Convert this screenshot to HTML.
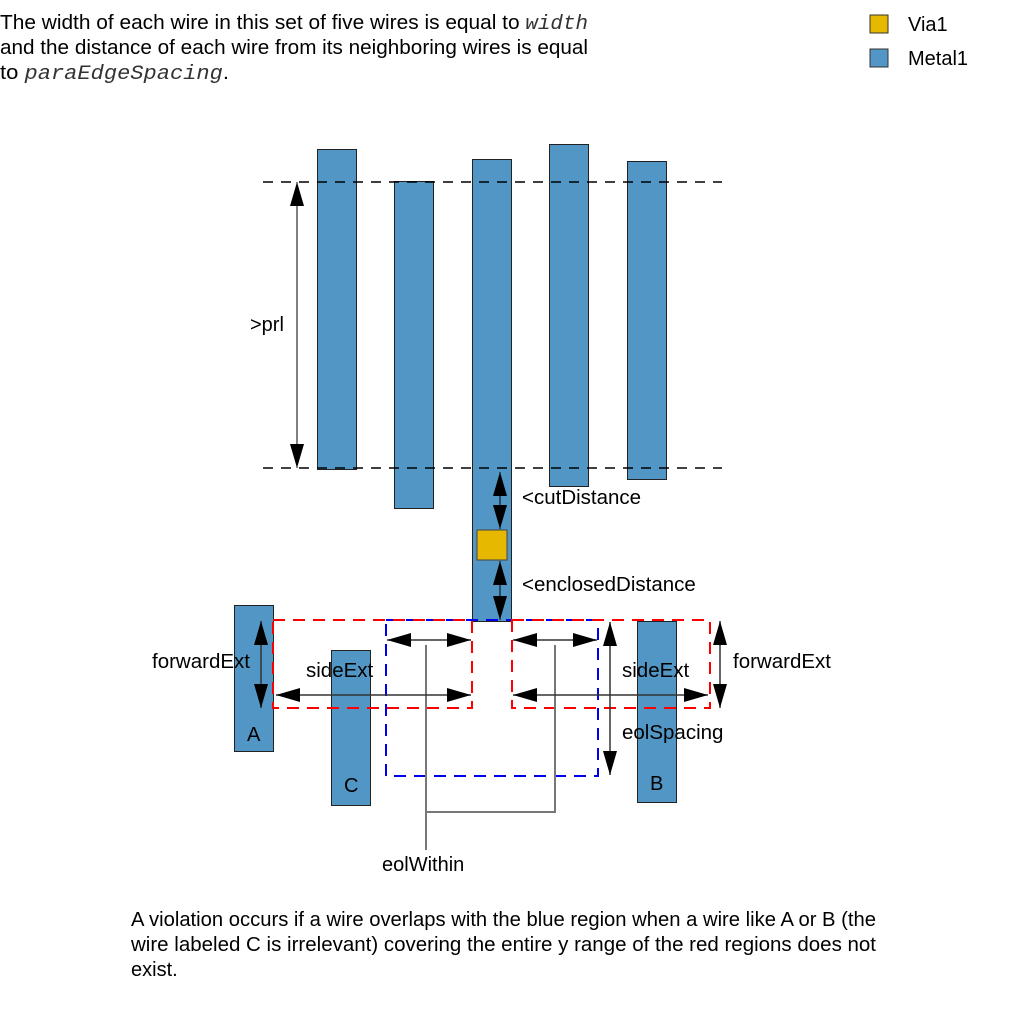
<!DOCTYPE html>
<html><head><meta charset="utf-8"><style>
html,body{margin:0;padding:0;background:#fff}
svg{display:block}
text{font-family:"Liberation Sans",sans-serif;fill:#000}
.m{font-family:"Liberation Mono",monospace;font-style:italic;fill:#333}
</style></head><body>
<svg width="1013" height="1012" viewBox="0 0 1013 1012" xmlns="http://www.w3.org/2000/svg">
<defs>
<marker id="ab" viewBox="0 0 24 14" refX="24" refY="7" markerWidth="24" markerHeight="14" markerUnits="userSpaceOnUse" orient="auto-start-reverse"><path d="M0,0 L24,7 L0,14 z" fill="#000"/></marker>
</defs>
<text x="0" y="29" font-size="20" textLength="588" lengthAdjust="spacingAndGlyphs">The width of each wire in this set of five wires is equal to <tspan class="m">width</tspan></text>
<text x="0" y="54" font-size="20" textLength="588" lengthAdjust="spacingAndGlyphs">and the distance of each wire from its neighboring wires is equal</text>
<text x="0" y="79" font-size="20" textLength="229" lengthAdjust="spacingAndGlyphs">to <tspan class="m">paraEdgeSpacing</tspan>.</text>

<rect x="870" y="15" width="18" height="18" fill="#e6b800" stroke="#333"/>
<text x="908" y="31" font-size="20">Via1</text>
<rect x="870" y="49" width="18" height="18" fill="#5196c4" stroke="#333"/>
<text x="908" y="65" font-size="20">Metal1</text>

<g fill="#5196c4" stroke="#222" stroke-width="1">
<rect x="317.5" y="149.5" width="39" height="320"/>
<rect x="394.5" y="181.5" width="39" height="327"/>
<rect x="472.5" y="159.5" width="39" height="462"/>
<rect x="549.5" y="144.5" width="39" height="342"/>
<rect x="627.5" y="161.5" width="39" height="318"/>
<rect x="234.5" y="605.5" width="39" height="146"/>
<rect x="331.5" y="650.5" width="39" height="155"/>
<rect x="637.5" y="621.5" width="39" height="181"/>
</g>
<rect x="477" y="530" width="30" height="30" fill="#e6b800" stroke="#444"/>

<g stroke="#000" stroke-width="1.5" stroke-dasharray="10,8">
<line x1="263" y1="182" x2="722" y2="182"/>
<line x1="263" y1="468" x2="722" y2="468"/>
</g>
<line x1="297" y1="182" x2="297" y2="468" stroke="#000" marker-start="url(#ab)" marker-end="url(#ab)"/>
<text x="250" y="331" font-size="20">&gt;prl</text>

<line x1="500" y1="472" x2="500" y2="529" stroke="#000" marker-start="url(#ab)" marker-end="url(#ab)"/>
<line x1="500" y1="561" x2="500" y2="620" stroke="#000" marker-start="url(#ab)" marker-end="url(#ab)"/>
<text x="522" y="504" font-size="20.5">&lt;cutDistance</text>
<text x="522" y="591" font-size="20.5">&lt;enclosedDistance</text>

<g fill="none" stroke-width="2" stroke-dasharray="12,8">
<rect x="386" y="620" width="212" height="156" stroke="#0000ee"/>
<rect x="273" y="620" width="199" height="88" stroke="#ff0000"/>
<rect x="512" y="620" width="198" height="88" stroke="#ff0000"/>
</g>

<g stroke="#777" stroke-width="2" fill="none">
<polyline points="426,645 426,812 555,812 555,645"/>
<line x1="426" y1="812" x2="426" y2="850"/>
</g>

<g stroke="#333" stroke-width="1.5">
<line x1="261" y1="621" x2="261" y2="708" marker-start="url(#ab)" marker-end="url(#ab)"/>
<line x1="276" y1="695" x2="471" y2="695" marker-start="url(#ab)" marker-end="url(#ab)"/>
<line x1="513" y1="695" x2="708" y2="695" marker-start="url(#ab)" marker-end="url(#ab)"/>
<line x1="387" y1="640" x2="471" y2="640" marker-start="url(#ab)" marker-end="url(#ab)"/>
<line x1="513" y1="640" x2="597" y2="640" marker-start="url(#ab)" marker-end="url(#ab)"/>
<line x1="610" y1="622" x2="610" y2="775" marker-start="url(#ab)" marker-end="url(#ab)"/>
<line x1="720" y1="621" x2="720" y2="708" marker-start="url(#ab)" marker-end="url(#ab)"/>
</g>

<text x="152" y="668" font-size="20.5">forwardExt</text>
<text x="306" y="677" font-size="20.5">sideExt</text>
<text x="622" y="677" font-size="20.5">sideExt</text>
<text x="733" y="668" font-size="20.5">forwardExt</text>
<text x="622" y="739" font-size="20.5">eolSpacing</text>
<text x="247" y="741" font-size="20">A</text>
<text x="344" y="792" font-size="20">C</text>
<text x="650" y="790" font-size="20">B</text>
<text x="382" y="871" font-size="20">eolWithin</text>

<text x="131" y="926" font-size="20" textLength="745" lengthAdjust="spacingAndGlyphs">A violation occurs if a wire overlaps with the blue region when a wire like A or B (the</text>
<text x="131" y="951" font-size="20" textLength="745" lengthAdjust="spacingAndGlyphs">wire labeled C is irrelevant) covering the entire y range of the red regions does not</text>
<text x="131" y="976" font-size="20">exist.</text>
</svg>
</body></html>
